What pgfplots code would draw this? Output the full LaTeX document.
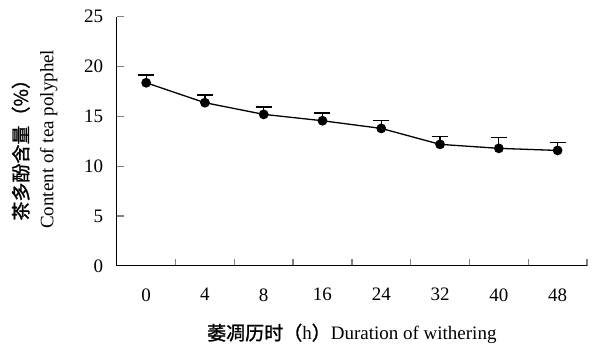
\documentclass[border=0pt]{standalone}
\usepackage{pgfplots}
\pgfplotsset{compat=1.18}
\usepackage{fontspec}
\setmainfont{Liberation Serif}
\newfontfamily\cjk{Noto Sans CJK SC}[FakeBold=1.2]
\begin{document}
\begin{tikzpicture}
\begin{axis}[
  scale only axis, width=470pt, height=249pt,
  xmin=-0.5, xmax=7.5, ymin=0, ymax=25,
  axis lines=left, axis line style={-, line width=1.3pt},
  xtick={0,...,7}, xticklabels={0,4,8,16,24,32,40,48},
  major x tick style={draw=none},
  minor xtick={0.5,1.5,...,7.5},
  minor x tick style={line width=1.3pt},
  minor tick length=7pt,
  ytick={0,5,...,25},
  major y tick style={line width=1.3pt},
  major tick length=7pt,
  tick align=inside,
  tick label style={font=\fontsize{19}{19}\selectfont},
  /pgf/number format/assume math mode=true,
  xticklabel style={yshift=-19pt},
  yticklabel style={xshift=-10pt},
  clip=false,
]
\addplot[black, line width=1.3pt, mark=*, mark size=4.2pt,
  error bars/.cd, y dir=plus, y explicit,
  error bar style={line width=1.3pt},
  error mark options={rotate=90, mark size=8pt, line width=1.3pt}]
  table[x=x, y=y, y error=e] {
x y e
0 18.37 0.78
1 16.37 0.77
2 15.20 0.73
3 14.56 0.77
4 13.79 0.80
5 12.19 0.80
6 11.79 1.06
7 11.58 0.77
};
\end{axis}
\node[font=\fontsize{19}{19}\selectfont, anchor=center] at ([yshift=-68pt]current axis.south) {{\cjk 萎凋历时（}h{\cjk ）}Duration of withering};
\node[rotate=90, font=\fontsize{19}{19}\selectfont, anchor=center] at ([xshift=-96pt, yshift=-4pt]current axis.west) {\cjk 茶多酚含量（\%）};
\node[rotate=90, font=\fontsize{19}{19}\selectfont, anchor=center] at ([xshift=-68pt, yshift=2pt]current axis.west) {Content of tea polyphel};
\path (current axis.south west) ++(-116.7pt,-84.3pt);
\path (current axis.north east) ++(13pt,16.7pt);
\end{tikzpicture}
\end{document}
